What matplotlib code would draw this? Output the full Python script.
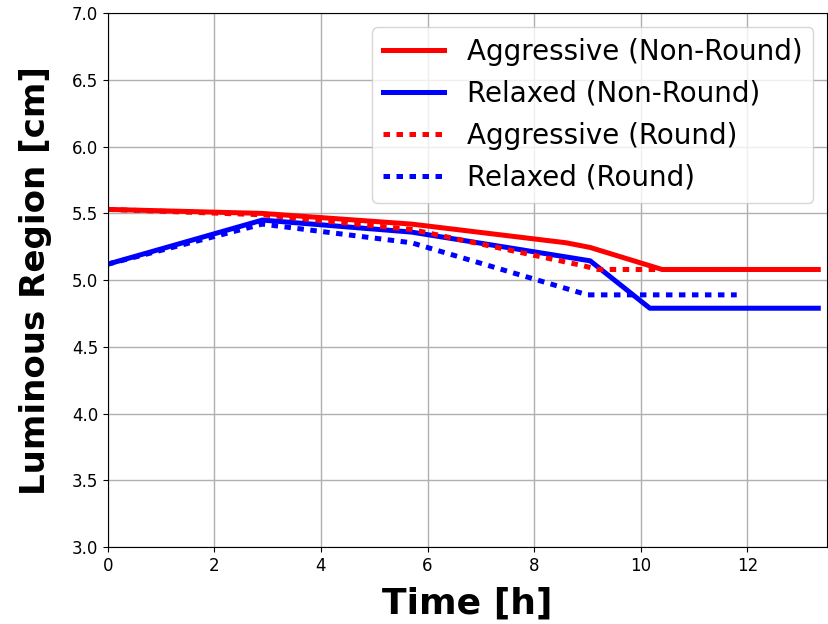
import numpy as np
import matplotlib
matplotlib.use('Agg')
import matplotlib.pyplot as plt

# time [h] and luminous region [cm]
t_aggr = [0, 2.9, 5.7, 8.6, 9.05, 10.4, 13.33]
y_aggr = [5.53, 5.50, 5.42, 5.28, 5.245, 5.08, 5.08]
t_relax = [0, 2.9, 5.7, 9.05, 10.17, 13.33]
y_relax = [5.12, 5.45, 5.36, 5.145, 4.79, 4.79]
t_aggr_r = [0, 2.9, 5.7, 8.9, 9.2, 11.8]
y_aggr_r = [5.53, 5.49, 5.38, 5.11, 5.08, 5.08]
t_relax_r = [0, 2.9, 5.7, 9.0, 11.8]
y_relax_r = [5.12, 5.42, 5.28, 4.89, 4.89]

fig = plt.figure(figsize=(8.29, 6.24), dpi=100)
ax = fig.add_axes([0.130, 0.123, 0.868, 0.856])
ax.plot(t_aggr, y_aggr, color='red', lw=3.6, label='Aggressive (Non-Round)')
ax.plot(t_relax, y_relax, color='blue', lw=3.6, label='Relaxed (Non-Round)')
ax.plot(t_aggr_r, y_aggr_r, color='red', lw=3.6, dashes=(1.3, 1.3), label='Aggressive (Round)')
ax.plot(t_relax_r, y_relax_r, color='blue', lw=3.6, dashes=(1.3, 1.3), label='Relaxed (Round)')
ax.set_xlim(0, 13.5)
ax.set_ylim(3.0, 7.0)
ax.set_xticks([0, 2, 4, 6, 8, 10, 12])
ax.set_yticks(np.arange(3.0, 7.01, 0.5))
ax.tick_params(labelsize=12)
ax.grid(True, color='#b0b0b0', lw=1)
ax.set_xlabel('Time [h]', fontsize=26, fontweight='bold', labelpad=8)
ax.set_ylabel('Luminous Region [cm]', fontsize=24.5, fontweight='bold', labelpad=14)
ax.legend(loc='upper right', fontsize=20, handlelength=2.2)
fig.savefig('out.png')
